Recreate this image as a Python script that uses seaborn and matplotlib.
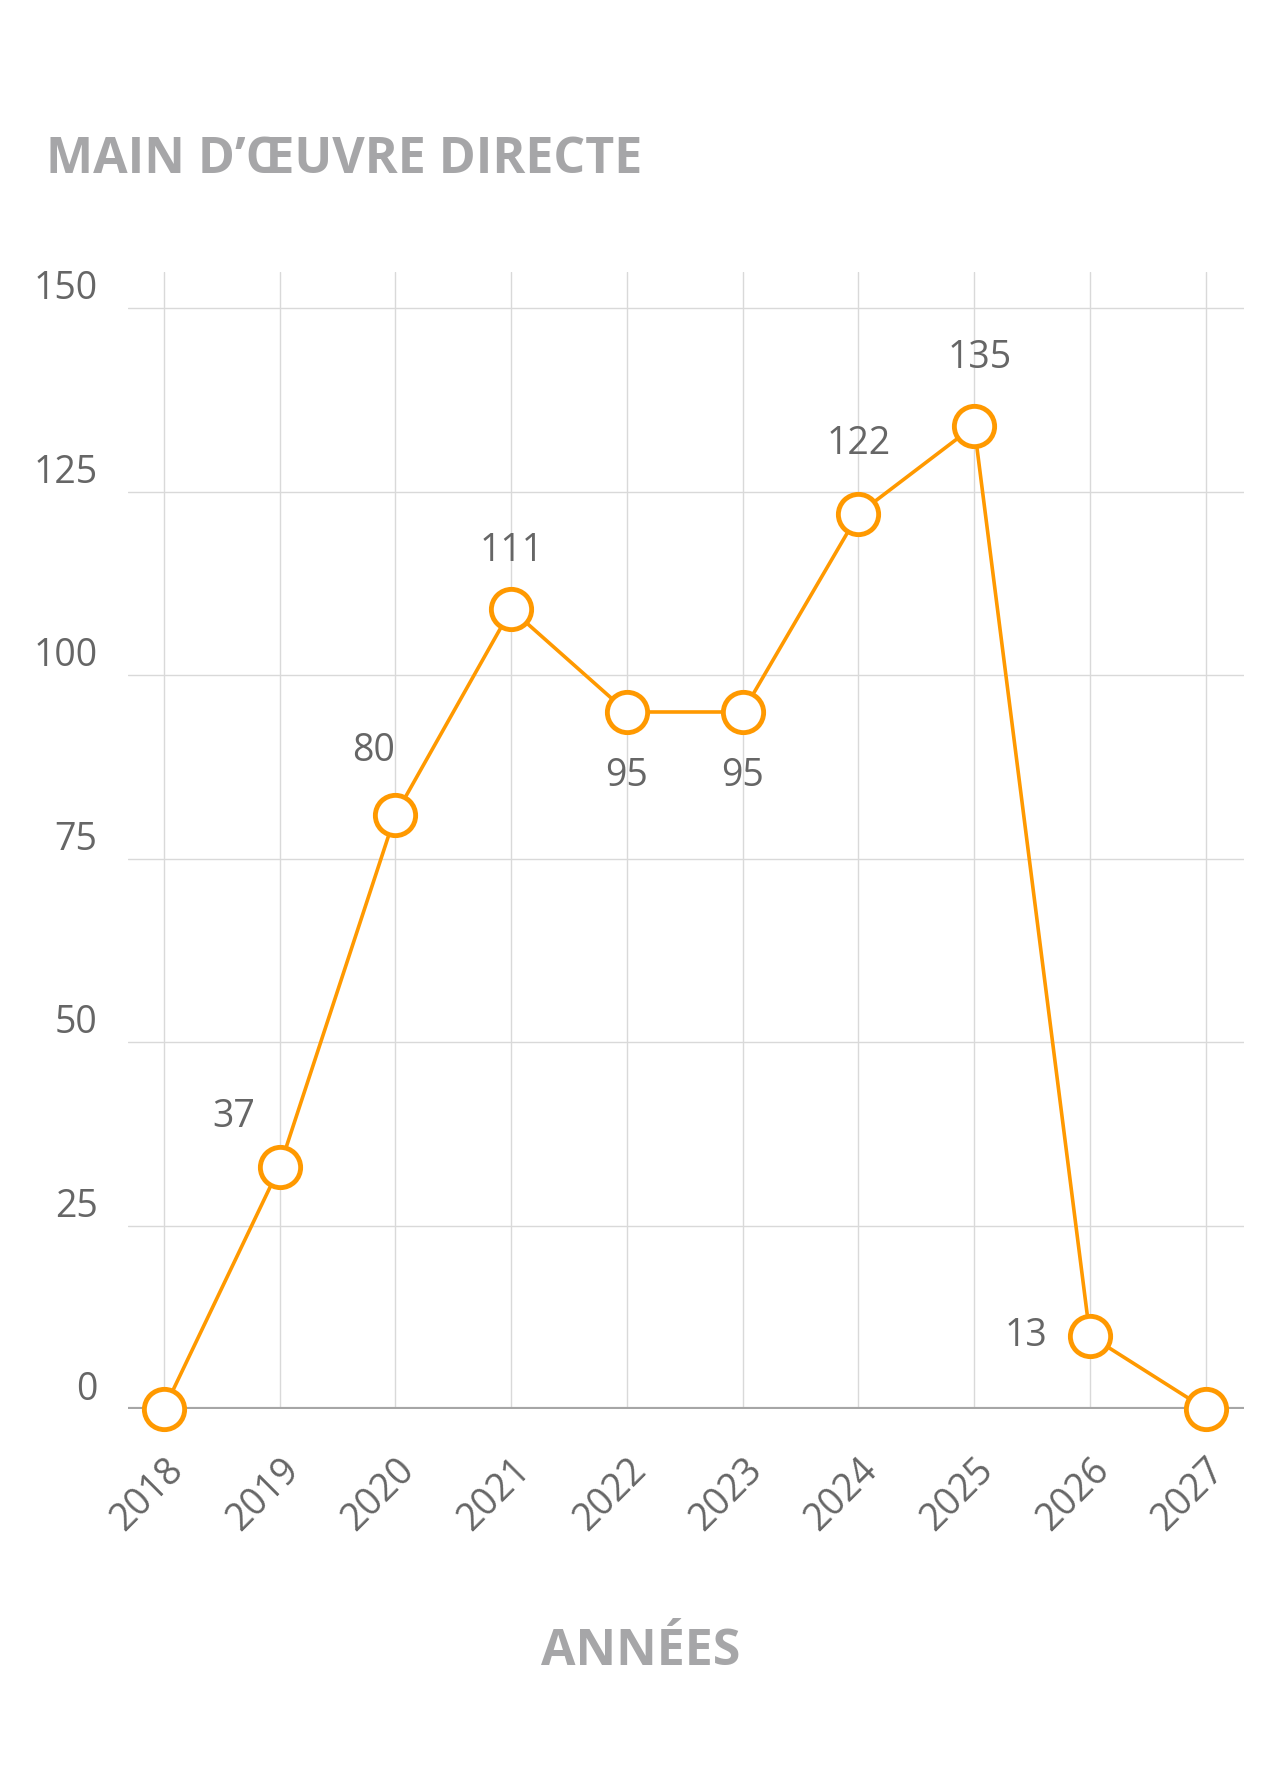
import matplotlib
matplotlib.use("Agg")
import matplotlib.pyplot as plt
import seaborn as sns
import pandas as pd

# data
years = ["2018", "2019", "2020", "2021", "2022", "2023", "2024", "2025", "2026", "2027"]
values = [0, 33, 81, 109, 95, 95, 122, 134, 10, 0]
labels = ["", "37", "80", "111", "95", "95", "122", "135", "13", ""]

df = pd.DataFrame({"x": range(len(years)), "y": values})

orange = "#FF9900"
grey_txt = "#666666"
grey_title = "#A6A6A8"

sns.set_style("white")
plt.rcParams["font.family"] = "Open Sans"

fig = plt.figure(figsize=(12.81, 17.76), dpi=100)
ax = fig.add_axes([0.1, 0.2066, 0.871, 0.6404])

sns.lineplot(data=df, x="x", y="y", ax=ax, color=orange, lw=2.6,
             marker="o", markersize=29, markerfacecolor="white",
             markeredgecolor=orange, markeredgewidth=3.5, clip_on=False, zorder=5)

# label offsets (points)
offs = [(0, 0), (-33, 36), (-16, 46), (0, 42), (0, -46), (0, -46), (0, 50), (4, 49), (-46, 0), (0, 0)]
for i, (v, t) in enumerate(zip(values, labels)):
    if t:
        ax.annotate(t, (i, v), xytext=offs[i], textcoords="offset points",
                    ha="center", va="center", fontsize=27, color=grey_txt)

ax.set_xlim(-0.31, 9.33)
ax.set_ylim(0, 155)
ax.set_yticks([0, 25, 50, 75, 100, 125, 150])
ax.set_xticks(range(len(years)))
ax.set_xticklabels(years, rotation=45, ha="right", rotation_mode="anchor")
ax.tick_params(axis="both", labelsize=27, colors=grey_txt, length=0)
ax.tick_params(axis="x", pad=30)
ax.tick_params(axis="y", pad=22)
for lbl in ax.get_yticklabels():
    lbl.set_va("bottom")
ax.grid(True, color="#D9D9D9", lw=1)
ax.axhline(0, color="#A6A6A6", lw=3, zorder=3)
for s in ax.spines.values():
    s.set_visible(False)
ax.set_xlabel("")
ax.set_ylabel("")

fig.text(0.036, 0.91, "MAIN D\u2019ŒUVRE DIRECTE", fontsize=36, fontweight="bold",
         color=grey_title, ha="left", va="center")
fig.text(0.5, 0.07, "ANNÉES", fontsize=36, fontweight="bold",
         color=grey_title, ha="center", va="center")

fig.savefig("out.png", dpi=100)
